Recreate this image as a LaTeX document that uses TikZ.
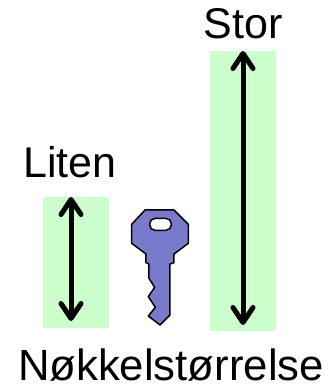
\documentclass[tikz,border=0pt]{standalone}
\usepackage{fontspec}
\setmainfont{Liberation Sans}
\usetikzlibrary{positioning}
\usetikzlibrary{arrows.meta}
\definecolor{barfill}{HTML}{CCFFCC}
\definecolor{keyfill}{HTML}{7A7ACC}
\tikzset{
  sizebar/.style={fill=barfill, draw=none, inner sep=0pt, minimum width=66pt},
  sizetext/.style={font=\fontsize{43}{43}\selectfont, inner sep=0pt, text=black},
  sizearrow/.style={line width=5pt, {Straight Barb[length=15pt,width=20pt,line width=5pt,round]}-{Straight Barb[length=15pt,width=20pt,line width=5pt,round]}},
}
\begin{document}
\begin{tikzpicture}[x=1pt, y=-1pt]
      \useasboundingbox (0,0) rectangle (335,385);
      \node[sizebar, minimum height=131pt] (smallbar) at (76,262.5) {};
      \node[sizebar, minimum height=280pt] (bigbar) at (243,191) {};
      \node[sizetext, anchor=base] (small) at (70,177) {Liten};
      \node[sizetext, anchor=base] (big) at (243,39) {Stor};
      \node[sizetext, font=\fontsize{43.7}{44}\selectfont, anchor=base] (title) at (171,380) {Nøkkelstørrelse};
      \coordinate (smalltop) at (71,197);
      \coordinate (smallend) at (71,321);
      \coordinate (bigtop) at (243,51);
      \coordinate (bigend) at (243,325);
      \draw[sizearrow] (smalltop) -- (smallend);
      \draw[sizearrow] (bigtop) -- (bigend);
      % key
      \begin{scope}[shift={(120,190)}, x=0.3333pt, y=-0.3333pt]
        \draw[fill=keyfill, line width=1.5pt, line join=round]
          (75,60) -- (162,60) -- (205,103) -- (205,160) -- (162,192) -- (162,218)
          -- (150,222) -- (150,375) -- (120,405) -- (85,378) -- (106,352) -- (85,320)
          -- (104,292) -- (87,265) -- (87,222) -- (78,218) -- (78,192) -- (35,160)
          -- (35,103) -- cycle;
        \draw[fill=white, line width=1.5pt, rounded corners=5.5pt]
          (89,85) rectangle (154,121);
      \end{scope}
    \end{tikzpicture}
\end{document}
